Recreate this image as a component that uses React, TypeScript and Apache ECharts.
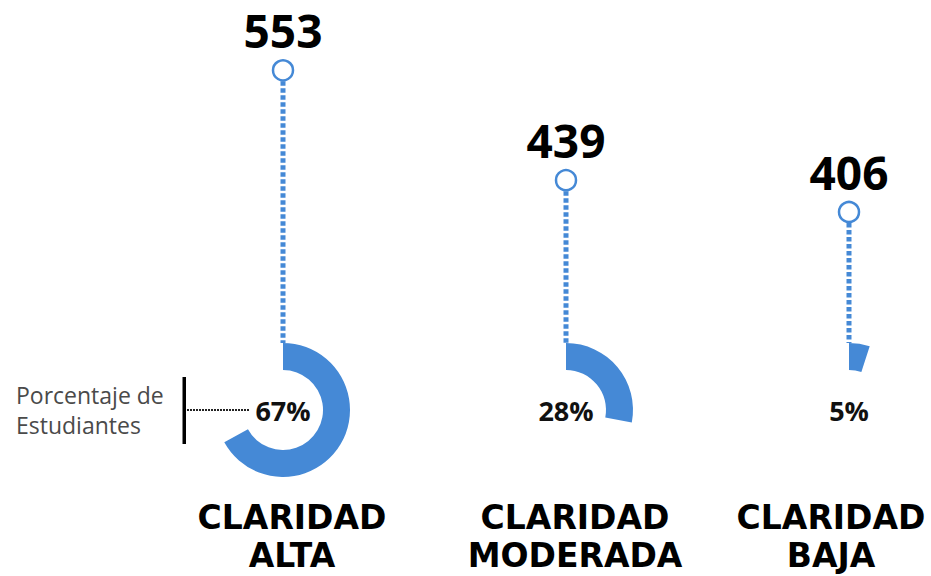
import { useEffect, useRef } from 'react';
import * as echarts from 'echarts';

// ---- data ----
const categories = ['CLARIDAD\nALTA', 'CLARIDAD\nMODERADA', 'CLARIDAD\nBAJA'];
const counts = [553, 439, 406];
const percents = [67, 28, 5];
const annotation = 'Porcentaje de\nEstudiantes';

// ---- layout / style ----
const BLUE = '#4589d6';
const W = 931;
const H = 576;
const FIRST_X = 283;
const STEP = 283;
const GRID_BASE_Y = 343;
const Y_MIN = 270;
const Y_MAX = 626;
const PIE_CY = 410;
const LABEL_X = [292, 575, 831];

export default function App() {
  const ref = useRef<HTMLDivElement>(null);
  useEffect(() => {
    document.body.style.margin = '0';
    const chart = echarts.init(ref.current!, undefined, { renderer: 'svg', width: W, height: H });
    const pieSeries = percents.map((p, i) => ({
      type: 'pie',
      center: [FIRST_X + STEP * i, PIE_CY],
      radius: [40, 67],
      startAngle: 90,
      clockwise: true,
      silent: true,
      label: { show: false },
      labelLine: { show: false },
      emphasis: { disabled: true },
      data: [
        {
          value: p,
          name: categories[i],
          itemStyle: { color: BLUE },
          label: {
            show: true,
            position: 'center',
            formatter: `${p}%`,
            fontSize: 27,
            fontWeight: 'bold',
            color: '#111',
            fontFamily: 'Open Sans',
          },
        },
        { value: 100 - p, name: 'resto', itemStyle: { color: 'transparent' }, label: { show: false } },
      ],
    }));

    const option: any = {
      animation: false,
      backgroundColor: '#fff',
      grid: { left: FIRST_X, width: STEP * (categories.length - 1), top: 0, height: GRID_BASE_Y, containLabel: false, outerBoundsMode: 'none' },
      xAxis: { type: 'category', data: categories, show: false, boundaryGap: false },
      yAxis: { type: 'value', min: Y_MIN, max: Y_MAX, show: false },
      series: [
        {
          type: 'custom',
          coordinateSystem: 'cartesian2d',
          silent: true,
          clip: false,
          data: counts.map((v, i) => [i, v]),
          renderItem: (params: any, api: any) => {
            const i = api.value(0);
            const v = api.value(1);
            const p = api.coord([i, v]);
            const cs = params.coordSys;
            const baseY = cs.y + cs.height;
            return {
              type: 'group',
              children: [
                {
                  type: 'line',
                  shape: { x1: p[0], y1: p[1] + 11, x2: p[0], y2: baseY },
                  style: { stroke: BLUE, lineWidth: 5, lineDash: [4.5, 2.5] },
                },
                {
                  type: 'circle',
                  shape: { cx: p[0], cy: p[1], r: 10 },
                  style: { fill: '#fff', stroke: BLUE, lineWidth: 2.5 },
                },
                {
                  type: 'text',
                  x: p[0],
                  y: p[1] - 40,
                  style: {
                    text: String(v),
                    fontSize: 46,
                    fontWeight: 'bold',
                    fontFamily: 'Open Sans',
                    fill: '#000',
                    align: 'center',
                    verticalAlign: 'middle',
                  },
                },
              ],
            };
          },
        },
        ...pieSeries,
      ],
      graphic: [
        {
          type: 'text',
          left: 16,
          top: 380,
          style: {
            text: annotation,
            fontSize: 23,
            lineHeight: 30,
            fontFamily: 'Open Sans',
            fill: '#4a4a4a',
          },
        },
        { type: 'rect', shape: { x: 182.5, y: 377, width: 3.5, height: 67 }, style: { fill: '#000' } },
        {
          type: 'line',
          shape: { x1: 187, y1: 410, x2: 250, y2: 410 },
          style: { stroke: '#222', lineWidth: 2, lineDash: [2, 1] },
        },
        ...categories.map((c, i) => ({
          type: 'text',
          x: LABEL_X[i],
          y: 536,
          style: {
            text: c,
            fontSize: 33,
            fontWeight: 'bold',
            fontFamily: 'DejaVu Sans',
            lineHeight: 38,
            fill: '#000',
            align: 'center',
            verticalAlign: 'middle',
          },
        })),
      ],
    };
    chart.setOption(option);
    return () => chart.dispose();
  }, []);
  return <div ref={ref} style={{ width: W, height: H, position: 'fixed', left: 0, top: 0 }} />;
}
